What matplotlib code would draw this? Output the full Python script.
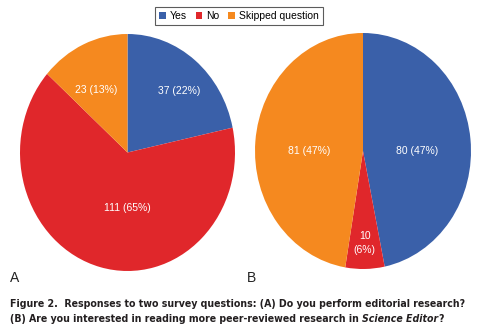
import numpy as np
import matplotlib
matplotlib.use("Agg")
import matplotlib.pyplot as plt
from matplotlib.patches import Patch

plt.rcParams['font.family'] = ['Liberation Sans', 'DejaVu Sans']

categorias = ["Yes", "No", "Skipped question"]
colores = ["#3A60A9", "#E0272B", "#F5891F"]

# respuestas de cada pregunta
valores_a = [37, 111, 23]
valores_b = [80, 10, 81]

# posicion de cada etiqueta: distancia al centro (en radios) y angulo
# (None = angulo medio de la porcion)
dist_a = [0.71, 0.47, 0.60]
ang_a = [47, 270, 119]
dist_b = [0.50, 0.78, 0.50]
ang_b = [0, None, 180]
partir_b = [False, True, False]

pie_caption_1 = "Figure 2.  Responses to two survey questions: (A) Do you perform editorial research?"
pie_caption_2 = "(B) Are you interested in reading more peer-reviewed research in "

W, H = 487, 336


def etiquetas(valores, partir):
    total = sum(valores)
    textos = []
    for v, p in zip(valores, partir):
        sep = "\n" if p else " "
        textos.append(f"{v}{sep}({round(100 * v / total)}%)")
    return textos


def dibujar_pie(ax, valores, dist, angulos, partir):
    wedges, _ = ax.pie(valores, colors=colores, startangle=90, counterclock=False,
                       wedgeprops=dict(linewidth=0))
    ax.set_aspect('auto')
    ax.set_xlim(-1, 1)
    ax.set_ylim(-1, 1)
    for w, d, a, txt in zip(wedges, dist, angulos, etiquetas(valores, partir)):
        if a is None:
            a = (w.theta1 + w.theta2) / 2
        ang = np.deg2rad(a)
        ax.text(d * np.cos(ang), d * np.sin(ang), txt, color="white",
                fontsize=7.5, ha="center", va="center", linespacing=1.5)


fig = plt.figure(figsize=(W / 100, H / 100), dpi=100)

ax_a = fig.add_axes([20 / W, (H - 271) / H, 215 / W, 237 / H])
dibujar_pie(ax_a, valores_a, dist_a, ang_a, [False] * 3)

ax_b = fig.add_axes([255 / W, (H - 269) / H, 216 / W, 236 / H])
dibujar_pie(ax_b, valores_b, dist_b, ang_b, partir_b)

handles = [Patch(facecolor=c, edgecolor="none") for c in colores]
leg = fig.legend(handles, categorias, loc="upper center", bbox_to_anchor=(239 / W, 1 - 7 / H),
                 ncol=3, fontsize=7.5, frameon=True, fancybox=False, handlelength=0.65,
                 handleheight=0.65, handletextpad=0.4, columnspacing=0.8, borderpad=0.4,
                 borderaxespad=0)
leg.get_frame().set_edgecolor("#333333")
leg.get_frame().set_linewidth(0.8)

fig.text(10 / W, 1 - 282 / H, "A", fontsize=10, color="#222222")
fig.text(247 / W, 1 - 282 / H, "B", fontsize=10, color="#222222")

cap = dict(fontsize=7.6, fontweight="bold", color="#231F20", family="DejaVu Sans",
           fontstretch="condensed")
fig.text(10 / W, 1 - 307 / H, pie_caption_1, **cap)
t2 = fig.text(10 / W, 1 - 322 / H, pie_caption_2, **cap)
t3 = fig.text(0, 0, "Science Editor", transform=None, **cap, fontstyle="italic")
fig.canvas.draw()
bb = t2.get_window_extent()
t3.set_position((bb.x1, bb.y0))
t3.set_verticalalignment("bottom")
fig.canvas.draw()
bb = t3.get_window_extent()
fig.text(bb.x1, bb.y0, "?", transform=None, va="bottom", **cap)

fig.savefig("out.png", dpi=100)
